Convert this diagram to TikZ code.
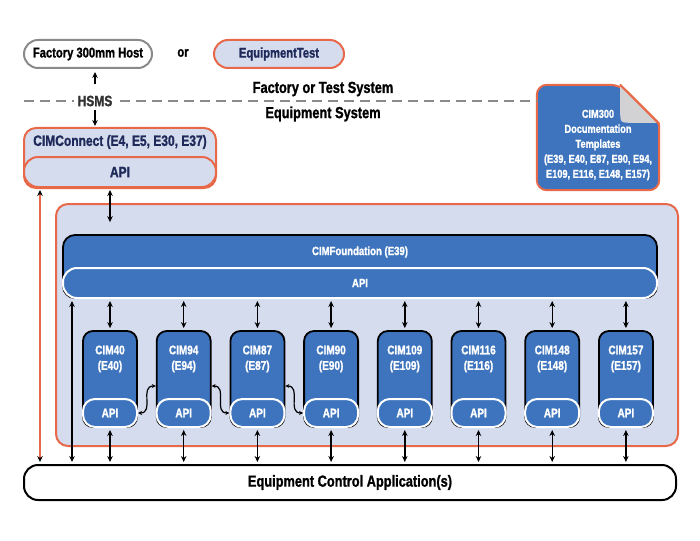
\documentclass[tikz,border=0pt]{standalone}
\usepackage{fontspec}
\setmainfont{Liberation Sans}[FakeStretch=0.8, BoldFeatures={FakeBold=1.2}]
\usetikzlibrary{arrows.meta,calc}
\definecolor{lightfill}{HTML}{D4DCEE}
\definecolor{darkblue}{HTML}{3D74BD}
\definecolor{orangeb}{HTML}{E8694A}
\definecolor{navy}{HTML}{1F2A5A}
\definecolor{hostgray}{HTML}{8A8A8A}
\definecolor{foldgray}{HTML}{D2D2D4}
\begin{document}
\begin{tikzpicture}[x=1pt,y=-1pt,
  t16/.style={font=\fontsize{16}{18}\selectfont\bfseries},
  t15/.style={font=\fontsize{15}{17}\selectfont\bfseries},
  t14/.style={font=\fontsize{14}{16}\selectfont\bfseries},
  t12/.style={font=\fontsize{12}{14}\selectfont\bfseries},
  t11/.style={font=\fontsize{11.5}{15}\selectfont\bfseries},
  tcim/.style={font=\fontsize{12.5}{15.5}\selectfont\bfseries},
  arr/.style={{Stealth[length=6pt,width=5.5pt]}-{Stealth[length=6pt,width=5.5pt]}, line width=1.4pt, black, shorten <=2pt, shorten >=2pt},
  sarr/.style={-{Stealth[length=6pt,width=5.5pt]}, line width=1.4pt, black},
  oarr/.style={{Stealth[length=6pt,width=5.5pt,color=black]}-{Stealth[length=6pt,width=5.5pt,color=black]}, line width=1.6pt, orangeb, shorten <=2pt, shorten >=2pt},
  warr/.style={{Stealth[length=4pt,width=4pt]}-{Stealth[length=4pt,width=4pt]}, line width=1.2pt, black, looseness=1.3},
  lbox/.style={draw=orangeb, fill=lightfill, line width=2pt, inner sep=0pt},
  dbox/.style={draw=black, fill=darkblue, line width=1.8pt, inner sep=0pt},
  wapi/.style={draw=white, fill=darkblue, line width=2pt, inner sep=0pt, text=white},
  dashline/.style={draw=hostgray, line width=2pt, dash pattern=on 10pt off 6pt},
]
\useasboundingbox (0,0) rectangle (700,540);

% top row
\node[draw=hostgray, fill=white, line width=2pt, rounded corners=14pt, minimum width=128pt, minimum height=28pt, t14] (host) at (88,54) {Factory 300mm Host};
\node[t14] (or) at (183,53) {or};
\node[lbox, rounded corners=14pt, minimum width=130pt, minimum height=28pt, t14, text=navy] (eqtest) at (279,54) {EquipmentTest};

% documentation shape
\node[minimum width=122pt, minimum height=105pt, inner sep=0pt] (doc) at (598,137.5) {};
\filldraw[draw=orangeb, fill=darkblue, line width=2pt, rounded corners=10pt]
  (doc.west) -- (doc.north west) -- ($(doc.north east)+(-39,0)$) [rounded corners=2pt] -- ($(doc.north east)+(0,39)$) [rounded corners=10pt] -- (doc.south east) -- (doc.south west) -- cycle;
\fill[foldgray] ($(doc.north east)+(-39,1)$) -- ($(doc.north east)+(-39,26)$) .. controls ($(doc.north east)+(-39,38)$) .. ($(doc.north east)+(-27,38)$) -- ($(doc.north east)+(-1,38)$) -- cycle;
\draw[orangeb, line width=2pt, line cap=round] ($(doc.north east)+(-39,0)$) -- ($(doc.north east)+(0,39)$);
\node[t11, text=white, align=center] (doctext) at (598,145) {CIM300\\Documentation\\Templates\\(E39, E40, E87, E90, E94,\\E109, E116, E148, E157)};

% dashed separator
\coordinate (dlstart) at (24,101);
\draw[dashline] (dlstart) -- (dlstart -| doc.west);
\node[fill=white, inner xsep=4pt, inner ysep=2pt, t15, text=black!80] (hsms) at (95,101) {HSMS};
\node[t16] (fts) at (323,89) {Factory or Test System};
\node[t16] (es) at (323,114) {Equipment System};

% CIMConnect
\node[lbox, rounded corners=12pt, minimum width=192pt, minimum height=60pt] (cimc) at (120,158) {};
\node[t15, text=navy] (cimct) at (120,142) {CIMConnect (E4, E5, E30, E37)};
\node[lbox, rounded corners=14pt, minimum width=192pt, minimum height=30pt, t15, text=navy] (cimcapi) at (120,172) {API};

\draw[sarr, shorten <=9pt, shorten >=3pt] (hsms.north) -- (hsms.north |- host.south);
\draw[sarr, shorten <=1pt, shorten >=1pt] (hsms.south) -- (hsms.south |- cimc.north);

% outer area
\node[lbox, rounded corners=12pt, minimum width=622pt, minimum height=242pt] (outer) at (367,325) {};

% CIMFoundation
\node[dbox, rounded corners=12pt, minimum width=594pt, minimum height=63pt] (cimf) at (360,266.5) {};
\node[t12, text=white] (cimft) at (360,252) {CIMFoundation (E39)};
\node[wapi, rounded corners=14pt, minimum width=594pt, minimum height=30pt, t12] (cimfapi) at (360,283) {API};

% Equipment control
\node[draw=black, fill=white, line width=2pt, rounded corners=14pt, minimum width=652pt, minimum height=35pt, t16] (eca) at (350,482.5) {Equipment Control Application(s)};

% CIM modules
\foreach \i/\n/\e in {1/CIM40/E40, 2/CIM94/E94, 3/CIM87/E87, 4/CIM90/E90, 5/CIM109/E109, 6/CIM116/E116, 7/CIM148/E148, 8/CIM157/E157} {
  \pgfmathsetmacro\xx{110+73.7*(\i-1)}
  \node[dbox, rounded corners=10pt, minimum width=54pt, minimum height=96pt] (cim\i) at (\xx,379) {};
  \node[wapi, rounded corners=12pt, minimum width=54pt, minimum height=28pt, tcim] (api\i) at (\xx,413) {API};
  \node[tcim, text=white, align=center] (cimt\i) at (\xx,359) {\n\\(\e)};
  \draw[arr] (cimfapi.south -| cim\i) -- (cim\i.north);
  \draw[arr] (api\i.south) -- (eca.north -| api\i);
}

% side connectors
\coordinate (ox) at (40,0);
\coordinate (bx) at (72,0);
\draw[oarr] (cimcapi.south -| ox) -- (eca.north -| ox);
\draw[arr] (cimfapi.south -| bx) -- (eca.north -| bx);
\draw[arr, shorten >=12pt] (cimcapi.south -| cim1) -- (cimf.north -| cim1);

% wavy links
\draw[warr] (api1.east) to[out=0,in=180] ([yshift=-7pt]cim2.west);
\draw[warr] ([yshift=-7pt]cim2.east) to[out=0,in=180] (api3.west);
\draw[warr] ([yshift=-7pt]cim3.east) to[out=0,in=180] (api4.west);
\end{tikzpicture}
\end{document}
